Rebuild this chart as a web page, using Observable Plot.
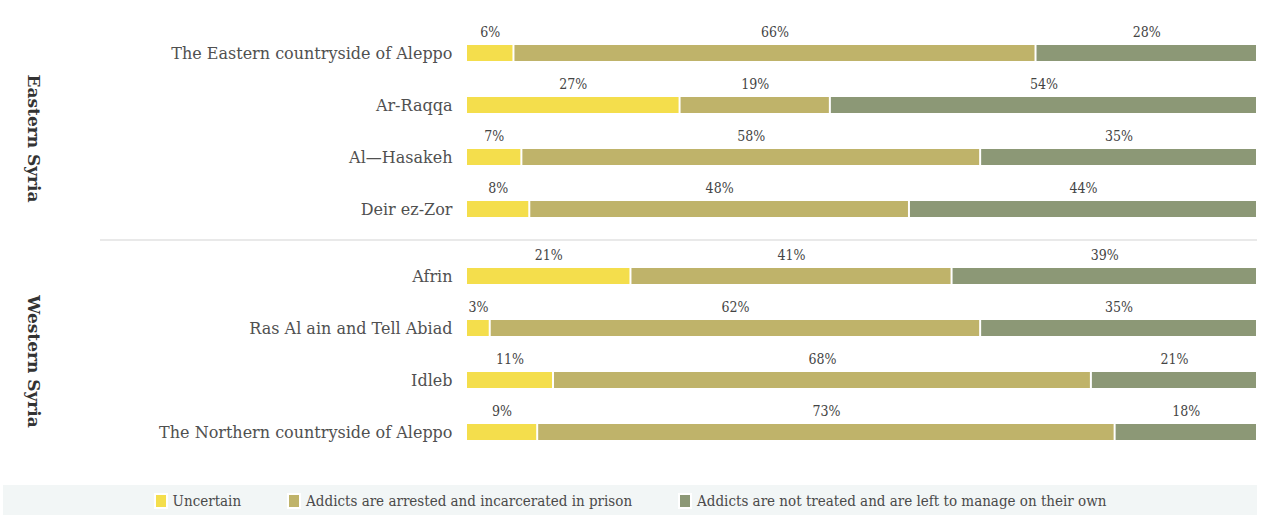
<!DOCTYPE html>
<html>
<head>
<meta charset="utf-8">
<script src="https://cdn.jsdelivr.net/npm/d3@7"></script>
<script src="https://cdn.jsdelivr.net/npm/@observablehq/plot@0.6"></script>
<style>
  html, body { margin: 0; padding: 0; background: #fff; }
  body { width: 1276px; height: 515px; overflow: hidden; font-family: "DejaVu Serif Condensed", "DejaVu Serif", serif; }
  #chart svg { display: block; }
  .legend {
    margin-left: 3px; width: 1254px; height: 32px; background: #f2f6f6;
    display: flex; justify-content: center; align-items: center; gap: 46px;
    font-size: 15px; color: #4a4a4a;
  }
  .legend .item { display: flex; align-items: center; gap: 5px; }
  .legend .sw { width: 10px; height: 12px; border: 2px solid #fff; }
</style>
</head>
<body>
<div id="chart"></div>
<div class="legend" id="legend"></div>
<script>
// Response categories, in stacking order
const categories = [
  "Uncertain",
  "Addicts are arrested and incarcerated in prison",
  "Addicts are not treated and are left to manage on their own"
];
const colors = ["#f4de4c", "#bfb36a", "#8c9876"];

const groups = ["Eastern Syria", "Western Syria"];

const regions = [
  "The Eastern countryside of Aleppo", "Ar-Raqqa", "Al—Hasakeh", "Deir ez-Zor",
  "Afrin", "Ras Al ain and Tell Abiad", "Idleb", "The Northern countryside of Aleppo"
];
const regionGroup = [
  "Eastern Syria", "Eastern Syria", "Eastern Syria", "Eastern Syria",
  "Western Syria", "Western Syria", "Western Syria", "Western Syria"
];

// Percent of respondents per region, one array per category
const uncertain   = [6, 27, 7, 8, 21, 3, 11, 9];
const arrested    = [66, 19, 58, 48, 41, 62, 68, 73];
const notTreated  = [28, 54, 35, 44, 39, 35, 21, 18];

const series = [uncertain, arrested, notTreated];

// Long table: one row per region × category
const rows = [];
regions.forEach((region, i) => {
  const group = regionGroup[i];
  const rank = regionGroup.slice(0, i).filter(g => g === group).length;
  categories.forEach((cat, j) => {
    rows.push({region, group, rank, cat, value: series[j][i]});
  });
});
const labelRows = rows.filter(d => d.cat === categories[0]);

const stack = (opts) => Plot.stackX({
  x: "value", y: "rank", fy: "group", z: "cat",
  order: categories, offset: "normalize", ...opts
});

const serif = "'DejaVu Serif', serif";
const condensed = "'DejaVu Serif Condensed', 'DejaVu Serif', serif";

const chart = Plot.plot({
  width: 1276,
  height: 485,
  marginLeft: 466,
  marginRight: 19,
  marginTop: 18,
  marginBottom: 35,
  style: {fontFamily: serif, color: "#444", background: "#fff"},
  x: {domain: [0, 1], axis: null},
  y: {domain: [0, 1, 2, 3], axis: null, padding: 0},
  fy: {domain: groups, axis: null, paddingInner: 0.067, paddingOuter: 0},
  color: {domain: categories, range: colors},
  marks: [
    Plot.barX(rows, stack({
      fill: "cat", insetTop: 27, insetBottom: 9, insetLeft: 1, insetRight: 1
    })),
    Plot.text(rows, stack({
      text: d => `${d.value}%`, dy: -12, fontSize: 14, fill: "#444",
      fontFamily: condensed
    })),
    Plot.text(labelRows, {
      x: 0, y: "rank", fy: "group", text: "region",
      textAnchor: "end", dx: -14, dy: 9, fontSize: 16, fill: "#505050"
    }),
    Plot.text(groups, {
      fy: d => d, text: d => d, frameAnchor: "left", textAnchor: "middle",
      rotate: 90, dx: -433, dy: 16, fontSize: 17, fontWeight: "bold", fill: "#333"
    })
  ]
});

// Thin divider between the two regional groups, reaching into the label margin
const fy = chart.scale("fy");
const xr = chart.scale("x").range;
const yDiv = fy.apply(groups[1]) - 1;
d3.select(chart).append("line")
  .attr("x1", 100).attr("x2", xr[1])
  .attr("y1", yDiv).attr("y2", yDiv)
  .attr("stroke", "#e2e2e2").attr("stroke-width", 1.5);

document.getElementById("chart").appendChild(chart);

// Legend strip below the chart
const legend = d3.select("#legend");
categories.forEach((cat, i) => {
  const item = legend.append("div").attr("class", "item");
  item.append("div").attr("class", "sw").style("background", colors[i]);
  item.append("span").text(cat);
});
</script>
</body>
</html>
